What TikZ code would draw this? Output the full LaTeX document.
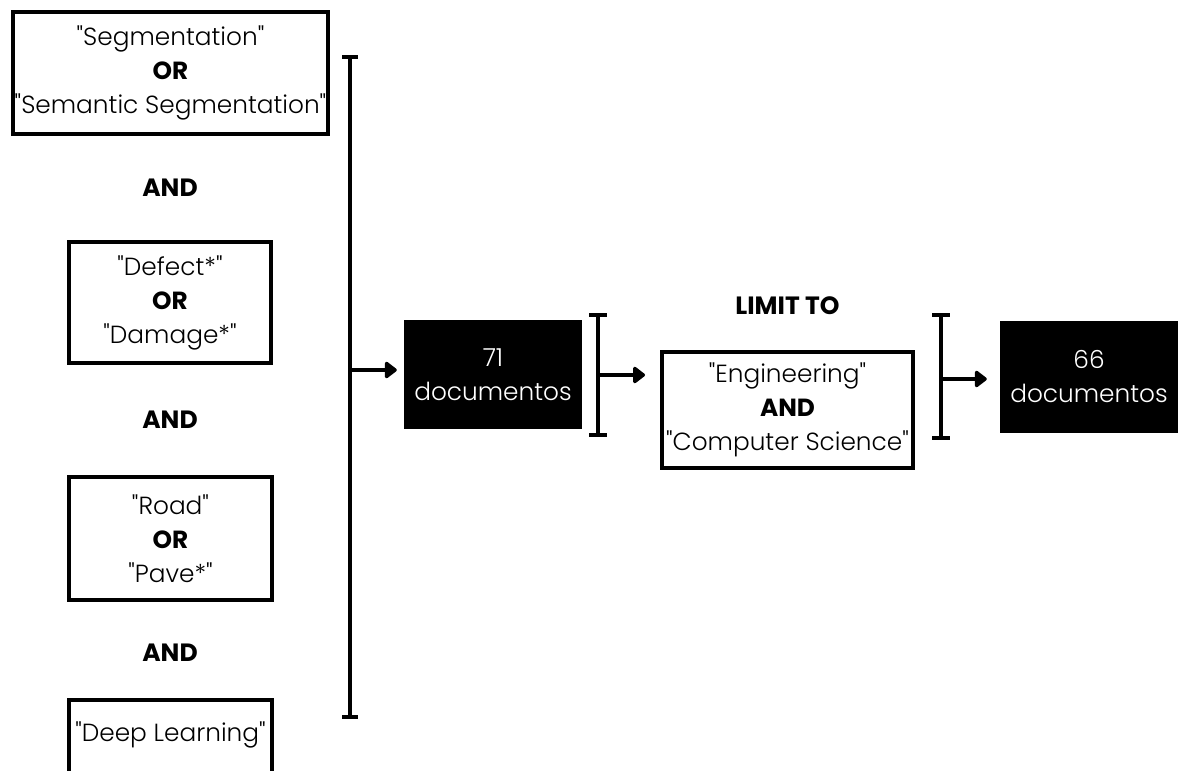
\documentclass[tikz,border=0pt]{standalone}
\usepackage{fontspec}
\setmainfont{Poppins}[UprightFont={* Light},BoldFont={* Bold}]
\usetikzlibrary{arrows.meta}
% straight double quotes around a search term
\newcommand\qterm[1]{\textquotedbl#1\textquotedbl}
% a centred line of zero width, so the box keeps its own size
\newcommand\zl[1]{\makebox[0pt]{#1}}
\tikzset{
  every node/.style={font=\fontsize{24.8}{34}\selectfont, align=center},
  qbox/.style={draw=black, line width=4pt, fill=white, inner sep=0pt},
  darkbox/.style={fill=black, text=white, inner sep=0pt},
  kw/.style={font=\fontsize{25}{34}\selectfont\bfseries},
  bar/.style={line width=4pt},
  arr/.style={line width=4pt, -{Triangle[length=13pt,width=19pt,round]}}
}
\begin{document}
\begin{tikzpicture}[x=1pt,y=-1pt]
\useasboundingbox (0,0) rectangle (1178,771);
\clip (0,0) rectangle (1178,771);

% search term groups
\node[qbox, minimum width=315pt, minimum height=122pt] (seg) at (170.5,73)
  {\zl{\qterm{Segmentation}}\\\zl{\textbf{OR}}\\\zl{\qterm{Semantic Segmentation}}};
\node[kw] (and1) at (170,188) {AND};
\node[qbox, minimum width=202pt, minimum height=121pt] (def) at (170,302.5)
  {\zl{\qterm{Defect*}}\\\zl{\textbf{OR}}\\\zl{\qterm{Damage*}}};
\node[kw] (and2) at (170,420) {AND};
\node[qbox, minimum width=203pt, minimum height=123pt] (road) at (170.5,538.5)
  {\zl{\qterm{Road}}\\\zl{\textbf{OR}}\\\zl{\qterm{Pave*}}};
\node[kw] (and3) at (170,653) {AND};
\draw[line width=4pt] (69,700) rectangle (272,800);
\node (deep) at (170.5,735) {\qterm{Deep Learning}};

% first bracket and result
\coordinate (b1t) at (350,57);
\coordinate (b1b) at (350,717);
\coordinate (b1m) at (350,370);
\draw[bar] (b1t) -- (b1b);
\draw[bar] ([xshift=-8pt]b1t) -- ([xshift=8pt]b1t);
\draw[bar] ([xshift=-8pt]b1b) -- ([xshift=8pt]b1b);

\node[darkbox, minimum width=178pt, minimum height=109pt] (r71) at (493,374.5)
  {\zl{71}\\\zl{documentos}};
\draw[arr, shorten >=7pt] (b1m) -- (b1m -| r71.west);

% second bracket and subject filter
\coordinate (b2t) at (598,315);
\coordinate (b2b) at (598,435);
\coordinate (b2m) at (598,375);
\draw[bar] (b2t) -- (b2b);
\draw[bar] ([xshift=-9pt]b2t) -- ([xshift=9pt]b2t);
\draw[bar] ([xshift=-9pt]b2b) -- ([xshift=9pt]b2b);

\node[qbox, minimum width=251pt, minimum height=116pt] (eng) at (787.5,410)
  {\zl{\qterm{Engineering}}\\\zl{\textbf{AND}}\\\zl{\qterm{Computer Science}}};
\node[kw] (lim) at (787.5,306) {LIMIT TO};
\draw[arr, shorten >=15pt] (b2m) -- (b2m -| eng.west);

% third bracket and final result
\coordinate (b3t) at (941,315);
\coordinate (b3b) at (941,438);
\coordinate (b3m) at (941,379);
\draw[bar] (b3t) -- (b3b);
\draw[bar] ([xshift=-9pt]b3t) -- ([xshift=9pt]b3t);
\draw[bar] ([xshift=-9pt]b3b) -- ([xshift=9pt]b3b);

\node[darkbox, minimum width=178pt, minimum height=112pt] (r66) at (1089,377)
  {\zl{66}\\\zl{documentos}};
\draw[arr, shorten >=13pt] (b3m) -- (b3m -| r66.west);
\end{tikzpicture}
\end{document}
